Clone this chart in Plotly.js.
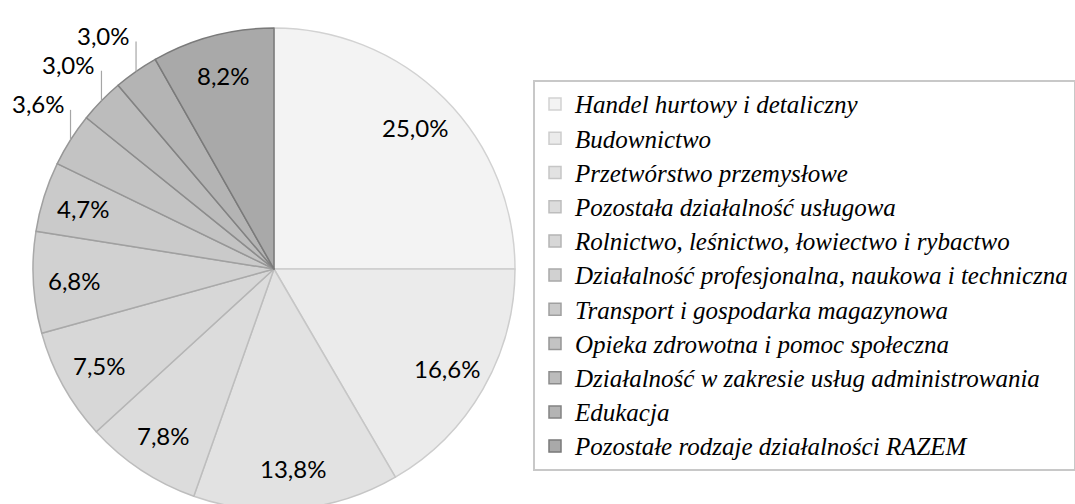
<!DOCTYPE html>
<html>
<head>
<meta charset="utf-8">
<script src="https://cdn.plot.ly/plotly-3.0.1.min.js"></script>
<style>
html,body{margin:0;padding:0;background:#fff;overflow:hidden;}
#chart{width:1075px;height:512px;}
</style>
</head>
<body>
<div id="chart"></div>
<script>
const categories = [
  "Handel hurtowy i detaliczny",
  "Budownictwo",
  "Przetwórstwo przemysłowe",
  "Pozostała działalność usługowa",
  "Rolnictwo, leśnictwo, łowiectwo i rybactwo",
  "Działalność profesjonalna, naukowa i techniczna",
  "Transport i gospodarka magazynowa",
  "Opieka zdrowotna i pomoc społeczna",
  "Działalność w zakresie usług administrowania",
  "Edukacja",
  "Pozostałe rodzaje działalności RAZEM"
];
const shares = [25.0, 16.6, 13.8, 7.8, 7.5, 6.8, 4.7, 3.6, 3.0, 3.0, 8.2];
const fillColors = ["#f3f3f3","#ebebeb","#e2e2e2","#dcdcdc","#d7d7d7","#d1d1d1","#cacaca","#c3c3c3","#bcbcbc","#b4b4b4","#a9a9a9"];
const lineColors = ["#d2d2d2","#cdcdcd","#c6c6c6","#bdbdbd","#b5b5b5","#a9a9a9","#a0a0a0","#969696","#8c8c8c","#828282","#7a7a7a"];
const labelOutside = [false,false,false,false,false,false,false,true,true,true,false];

const W = 1075, H = 512;
// pie box in pixels
const pieLeft = 33, pieRight = 515, pieTop = 28, pieBottom = 510;
const cx = (pieLeft + pieRight) / 2, cy = (pieTop + pieBottom) / 2, R = (pieRight - pieLeft) / 2;
const px2x = p => p / W, px2y = p => 1 - p / H;

const fmt = v => v.toFixed(1).replace(".", ",") + "%";
const labelFont = {family: "Lato, 'Open Sans', sans-serif", size: 24, color: "#000"};

const total = shares.reduce((a, b) => a + b, 0);
const annotations = [], shapes = [];
let cum = 0;
shares.forEach((v, i) => {
  const mid = (cum + v / 2) / total * 2 * Math.PI;
  cum += v;
  const s = Math.sin(mid), c = Math.cos(mid);
  if (!labelOutside[i]) {
    const r = 0.83 * R;
    annotations.push({
      xref: "paper", yref: "paper",
      x: px2x(cx + r * s), y: px2y(cy - r * c),
      text: fmt(v), showarrow: false, font: labelFont,
      xanchor: "center", yanchor: "middle"
    });
  } else {
    const ex = cx + R * s, ey = cy - R * c, lead = 30;
    shapes.push({
      type: "line", xref: "paper", yref: "paper",
      x0: px2x(ex), y0: px2y(ey), x1: px2x(ex), y1: px2y(ey - lead),
      line: {color: "#a6a6a6", width: 1.2}
    });
    annotations.push({
      xref: "paper", yref: "paper",
      x: px2x(ex - 4), y: px2y(ey - lead - 6),
      text: fmt(v), showarrow: false, font: labelFont,
      xanchor: "right", yanchor: "middle"
    });
  }
});

const trace = {
  type: "pie",
  labels: categories.map(t => '<span style="font-size:25px">' + t + '</span>'),
  values: shares,
  sort: false,
  direction: "clockwise",
  rotation: 0,
  marker: {colors: fillColors, line: {color: lineColors, width: 1.5}},
  textinfo: "none",
  hoverinfo: "label+value",
  domain: {x: [px2x(pieLeft), px2x(pieRight)], y: [px2y(pieBottom), px2y(pieTop)]}
};
const layout = {
  width: W, height: H,
  margin: {l:0, r:0, t:0, b:0, autoexpand: false},
  paper_bgcolor: "#fff",
  showlegend: true,
  annotations: annotations,
  shapes: shapes,
  legend: {
    x: 533/W, xanchor: "left",
    y: 1 - 80/H, yanchor: "top",
    bordercolor: "#c8c8c8", borderwidth: 2,
    bgcolor: "#fff",
    font: {family: "'Liberation Serif', serif", size: 24, style: "italic", color: "#000"},
    traceorder: "normal"
  }
};
Plotly.newPlot("chart", [trace], layout, {displayModeBar: false, staticPlot: true});
</script>
</body>
</html>
